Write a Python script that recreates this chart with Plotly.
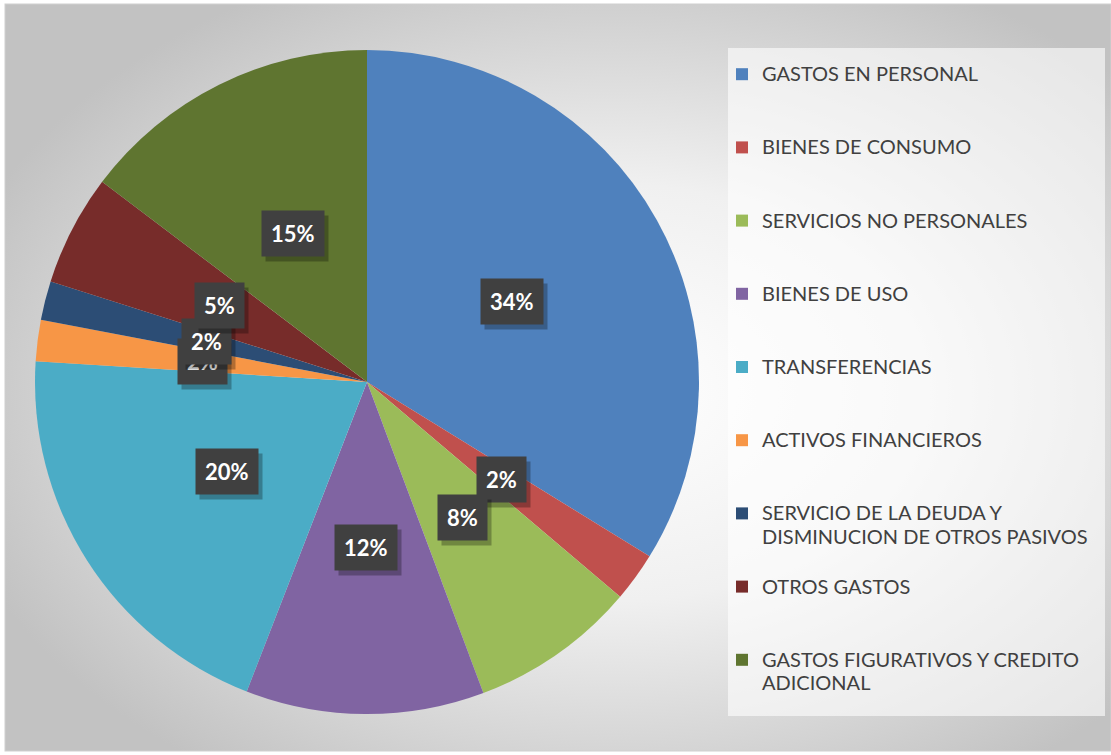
import math, base64
import plotly.graph_objects as go

W, H = 1111, 755

categories = [
    "GASTOS EN PERSONAL",
    "BIENES DE CONSUMO",
    "SERVICIOS NO PERSONALES",
    "BIENES DE USO",
    "TRANSFERENCIAS",
    "ACTIVOS FINANCIEROS",
    "SERVICIO DE LA DEUDA Y<br>DISMINUCION DE OTROS PASIVOS",
    "OTROS GASTOS",
    "GASTOS FIGURATIVOS Y CREDITO<br>ADICIONAL",
]
values = [33.8, 2.4, 8.1, 11.6, 20.1, 2.0, 1.9, 5.4, 14.7]
colors = ["#4F81BD", "#C0504D", "#9BBB59", "#8064A2", "#4BACC6",
          "#F79646", "#2C4D75", "#772C2A", "#5F7530"]

# pie geometry (pixels)
CX, CY, R = 367, 382, 332

# legend names padded to equal 3-line height, glyphs slightly larger than line pitch
legend_names = []
for c in categories:
    n = c.count("<br>") + 1
    lines = c.split("<br>") + [" "] * (3 - n)
    legend_names.append("<br>".join(f'<span style="font-size:20px">{ln}</span>' for ln in lines))

# radial gradient background as svg
svg = f'''<svg xmlns="http://www.w3.org/2000/svg" width="{W}" height="{H}">
<defs><radialGradient id="g" cx="0.55" cy="0.52" r="0.62">
<stop offset="0" stop-color="#ffffff"/><stop offset="0.45" stop-color="#f0f0f0"/>
<stop offset="1" stop-color="#c2c2c2"/></radialGradient></defs>
<rect x="0" y="0" width="{W}" height="{H}" fill="#ffffff"/>
<rect x="5" y="4" width="{W-5}" height="{H-8}" fill="url(#g)" stroke="#d0d0d0" stroke-width="1"/>
</svg>'''
src = "data:image/svg+xml;base64," + base64.b64encode(svg.encode()).decode()

fig = go.Figure()
fig.add_trace(go.Pie(
    labels=legend_names, values=values, sort=False, direction="clockwise",
    rotation=0, marker=dict(colors=colors, line=dict(width=0)),
    textinfo="none", hoverinfo="percent",
    domain=dict(x=[(CX - R) / W, (CX + R) / W], y=[1 - (CY + R) / H, 1 - (CY - R) / H]),
))

# percentage labels at half radius
total = sum(values)
cum = 0
annotations = []
for v in values:
    mid = (cum + v / 2) / total * 2 * math.pi
    cum += v
    px = CX + 0.5 * R * math.sin(mid)
    py = CY - 0.5 * R * math.cos(mid)
    txt = f"{round(v / total * 100)}%"
    common = dict(xref="paper", yref="paper", showarrow=False, xanchor="center",
                  yanchor="middle", borderpad=9, text=f"<b>{txt}</b>")
    annotations.append(dict(x=(px + 4) / W, y=1 - (py + 5) / H, bgcolor="rgba(0,0,0,0.28)",
                            font=dict(family="Lato", size=22, color="rgba(0,0,0,0)"), **common))
    annotations.append(dict(x=px / W, y=1 - py / H, bgcolor="#404040",
                            font=dict(family="Lato", size=22, color="white"), **common))

fig.update_layout(
    width=W, height=H, margin=dict(l=0, r=0, t=0, b=0),
    paper_bgcolor="white",
    images=[dict(source=src, xref="paper", yref="paper", x=0, y=1, sizex=1, sizey=1,
                 xanchor="left", yanchor="top", sizing="stretch", layer="below")],
    shapes=[dict(type="rect", xref="paper", yref="paper", x0=728 / W, x1=1105 / W,
                 y0=1 - 716 / H, y1=1 - 48 / H, fillcolor="white", line=dict(width=0),
                 layer="below", opacity=0.6)],
    legend=dict(x=722 / W, y=1 - 56 / H, xanchor="left", yanchor="top",
                bgcolor="rgba(0,0,0,0)", valign="top",
                font=dict(family="Lato", size=18, color="#404040")),
    annotations=annotations,
)
fig.write_html("out.html", config={"displayModeBar": False},
               post_script="document.body.style.margin='0px';")
